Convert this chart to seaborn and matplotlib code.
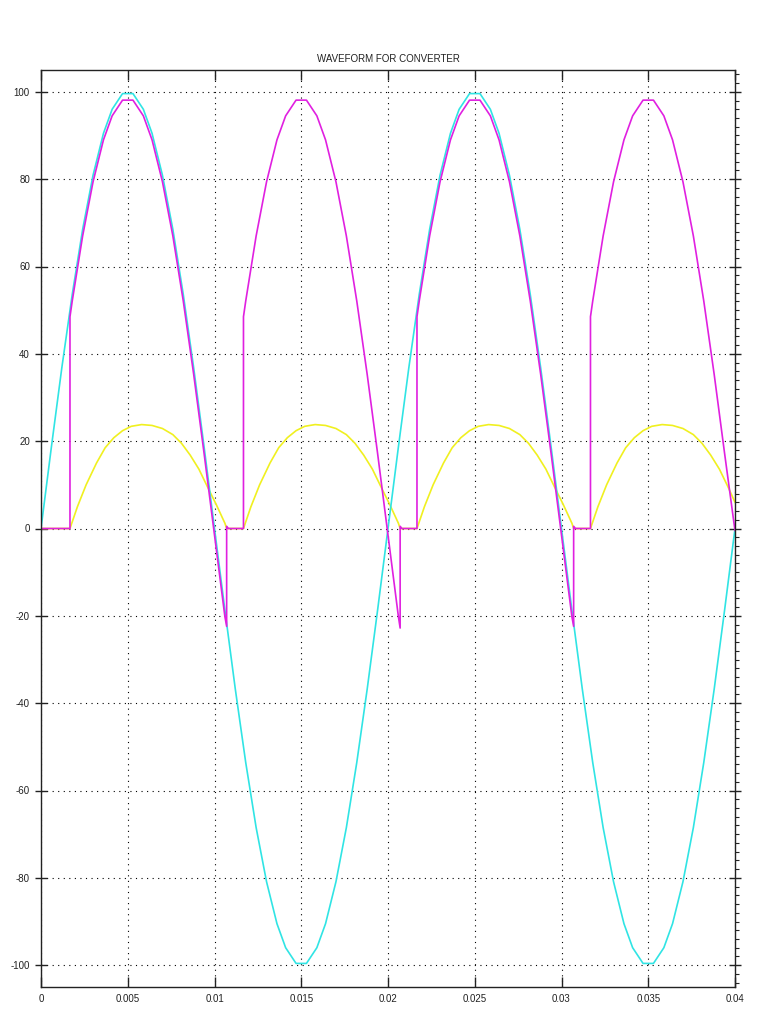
import matplotlib
matplotlib.use("Agg")
import matplotlib.pyplot as plt
from matplotlib.ticker import MultipleLocator
import seaborn as sns
import pandas as pd

# supply voltage (cyan)
vs_t = [0.0000, 0.0006, 0.0012, 0.0018, 0.0024, 0.0030, 0.0036, 0.0041, 0.0047, 0.0053, 0.0059, 0.0064, 0.0070, 0.0076, 0.0082, 0.0088, 0.0094,
        0.0100, 0.0106, 0.0112, 0.0118, 0.0124, 0.0130, 0.0136, 0.0141, 0.0147, 0.0153, 0.0159, 0.0164, 0.0170, 0.0176, 0.0182, 0.0188, 0.0194,
        0.0200, 0.0206, 0.0212, 0.0218, 0.0224, 0.0230, 0.0236, 0.0241, 0.0247, 0.0253, 0.0259, 0.0264, 0.0270, 0.0276, 0.0282, 0.0288, 0.0294,
        0.0300, 0.0306, 0.0312, 0.0318, 0.0324, 0.0330, 0.0336, 0.0341, 0.0347, 0.0353, 0.0359, 0.0364, 0.0370, 0.0376, 0.0382, 0.0388, 0.0394,
        0.0400]
vs_v = [0, 18.7, 36.8, 53.6, 68.5, 80.9, 90.5, 96.0, 99.6, 99.6, 96.0, 90.5, 80.9, 68.5, 53.6, 36.8, 18.7,
        0, -18.7, -36.8, -53.6, -68.5, -80.9, -90.5, -96.0, -99.6, -99.6, -96.0, -90.5, -80.9, -68.5, -53.6, -36.8, -18.7,
        0, 18.7, 36.8, 53.6, 68.5, 80.9, 90.5, 96.0, 99.6, 99.6, 96.0, 90.5, 80.9, 68.5, 53.6, 36.8, 18.7,
        0, -18.7, -36.8, -53.6, -68.5, -80.9, -90.5, -96.0, -99.6, -99.6, -96.0, -90.5, -80.9, -68.5, -53.6, -36.8, -18.7,
        0]

# output voltage (magenta)
vo_t = [0.0000, 0.00167,
        0.00167, 0.0018, 0.0024, 0.0030, 0.0036, 0.0041, 0.0047, 0.0053, 0.0059, 0.0064, 0.0070, 0.0076, 0.0082, 0.0088, 0.0094, 0.0100, 0.0106, 0.0107, 0.0107, 0.0108, 0.01167,
        0.01167, 0.0118, 0.0124, 0.0130, 0.0136, 0.0141, 0.0147, 0.0153, 0.0159, 0.0164, 0.0170, 0.0176, 0.0182, 0.0188, 0.0194, 0.0200, 0.0206, 0.0207, 0.0207, 0.0208, 0.02167,
        0.02167, 0.0218, 0.0224, 0.0230, 0.0236, 0.0241, 0.0247, 0.0253, 0.0259, 0.0264, 0.0270, 0.0276, 0.0282, 0.0288, 0.0294, 0.0300, 0.0306, 0.0307, 0.0307, 0.0308, 0.03167,
        0.03167, 0.0318, 0.0324, 0.0330, 0.0336, 0.0341, 0.0347, 0.0353, 0.0359, 0.0364, 0.0370, 0.0376, 0.0382, 0.0388, 0.0394, 0.0400]
vo_v = [0, 0,
        48.5, 52.1, 67.0, 79.4, 89.0, 94.5, 98.1, 98.1, 94.5, 89.0, 79.4, 67.0, 52.1, 35.3, 17.2, -1.5, -20.2, -22.4, 0.5, 0, 0,
        48.5, 52.1, 67.0, 79.4, 89.0, 94.5, 98.1, 98.1, 94.5, 89.0, 79.4, 67.0, 52.1, 35.3, 17.2, -1.5, -20.2, -22.8, 0.5, 0, 0,
        48.5, 52.1, 67.0, 79.4, 89.0, 94.5, 98.1, 98.1, 94.5, 89.0, 79.4, 67.0, 52.1, 35.3, 17.2, -1.5, -20.2, -22.4, 0.5, 0, 0,
        48.5, 52.1, 67.0, 79.4, 89.0, 94.5, 98.1, 98.1, 94.5, 89.0, 79.4, 67.0, 52.1, 35.3, 17.2, -0.5]

# load current (yellow)
io_t = [0.0000,
        0.00167, 0.0021, 0.0026, 0.0032, 0.0037, 0.0042, 0.0047, 0.0052, 0.0058, 0.0064, 0.0070, 0.0076, 0.0081, 0.0086, 0.0091, 0.0096, 0.0101, 0.0106, 0.0107,
        0.01167, 0.0121, 0.0126, 0.0132, 0.0137, 0.0142, 0.0147, 0.0152, 0.0158, 0.0164, 0.0170, 0.0176, 0.0181, 0.0186, 0.0191, 0.0196, 0.0201, 0.0206, 0.0207,
        0.02167, 0.0221, 0.0226, 0.0232, 0.0237, 0.0242, 0.0247, 0.0252, 0.0258, 0.0264, 0.0270, 0.0276, 0.0281, 0.0286, 0.0291, 0.0296, 0.0301, 0.0306, 0.0307,
        0.03167, 0.0321, 0.0326, 0.0332, 0.0337, 0.0342, 0.0347, 0.0352, 0.0358, 0.0364, 0.0370, 0.0376, 0.0381, 0.0386, 0.0391, 0.0396, 0.0400]
io_v = [0,
        0, 5.0, 10.0, 15.0, 18.5, 20.8, 22.4, 23.4, 23.8, 23.6, 22.9, 21.5, 19.5, 16.8, 13.6, 9.5, 5.5, 1.2, 0,
        0, 5.0, 10.0, 15.0, 18.5, 20.8, 22.4, 23.4, 23.8, 23.6, 22.9, 21.5, 19.5, 16.8, 13.6, 9.5, 5.5, 1.2, 0,
        0, 5.0, 10.0, 15.0, 18.5, 20.8, 22.4, 23.4, 23.8, 23.6, 22.9, 21.5, 19.5, 16.8, 13.6, 9.5, 5.5, 1.2, 0,
        0, 5.0, 10.0, 15.0, 18.5, 20.8, 22.4, 23.4, 23.8, 23.6, 22.9, 21.5, 19.5, 16.8, 13.6, 9.5, 6.0]

x_ticks = [0, 0.005, 0.01, 0.015, 0.02, 0.025, 0.03, 0.035, 0.04]
x_labels = ["0", "0.005", "0.01", "0.015", "0.02", "0.025", "0.03", "0.035", "0.04"]
y_ticks = [-100, -80, -60, -40, -20, 0, 20, 40, 60, 80, 100]
y_labels = ["-100", "-80", "-60", "-40", "-20", "0", "20", "40", "60", "80", "100"]

sns.set_style("white")
plt.rcParams["font.family"] = ["Liberation Sans", "DejaVu Sans"]

fig = plt.figure(figsize=(7.68, 10.24), dpi=100)
ax = fig.add_axes([41 / 768, 1 - 987 / 1024, 694 / 768, 917 / 1024])

lw = 1.2
sns.lineplot(x=io_t, y=io_v, sort=False, estimator=None, color="#f0f020", lw=lw, ax=ax)
sns.lineplot(x=vs_t, y=vs_v, sort=False, estimator=None, color="#30e4e4", lw=lw, ax=ax)
sns.lineplot(x=vo_t, y=vo_v, sort=False, estimator=None, color="#e020e0", lw=lw, ax=ax)

ax.set_xlim(0, 0.04)
ax.set_ylim(-105, 105)
ax.set_xticks(x_ticks)
ax.set_xticklabels(x_labels)
ax.set_yticks(y_ticks)
ax.set_yticklabels(y_labels)
ax.set_xlabel("")
ax.set_ylabel("")

ax.grid(True, linestyle=(0, (1, 4)), color="black", linewidth=0.8)
for s in ax.spines.values():
    s.set_color("#222222")
    s.set_linewidth(1.0)

ax.tick_params(axis="x", which="major", direction="in", length=7, width=1, top=True, bottom=True,
               labelsize=7, colors="#222222", pad=5)
ax.tick_params(axis="y", which="major", direction="inout", length=8, width=1, left=True, right=True,
               labelsize=7, colors="#222222", pad=4)
ax.yaxis.set_minor_locator(MultipleLocator(2))
ax.tick_params(axis="y", which="minor", direction="out", length=3, width=0.8, left=False, right=True, color="#222222")

ax.set_title("WAVEFORM FOR CONVERTER", fontsize=7, color="#222222", pad=6)

fig.savefig("out.png", dpi=100)
